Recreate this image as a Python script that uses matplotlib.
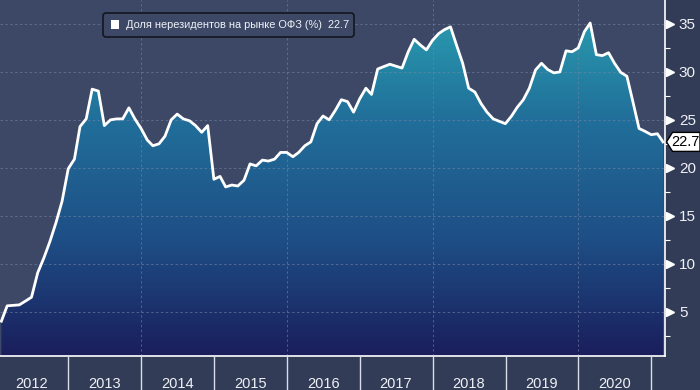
import numpy as np
import pandas as pd
import matplotlib
matplotlib.use('Agg')
import matplotlib.pyplot as plt
import matplotlib.dates as mdates
from matplotlib.colors import LinearSegmentedColormap
from matplotlib.patches import Polygon, FancyBboxPatch, Rectangle
from matplotlib.transforms import IdentityTransform

# monthly share of non-residents in OFZ market, % (month-end values)
dates = pd.date_range('2012-01-31', periods=110, freq='ME')
values = [
    4.0, 5.6, 5.65, 5.7, 6.1, 6.5, 9.05, 10.6, 12.3, 14.3, 16.5, 19.9,           # 2012
    20.9, 24.3, 25.1, 28.2, 28.0, 24.4, 25.0, 25.1, 25.1, 26.25, 25.1, 24.1,     # 2013
    22.9, 22.3, 22.5, 23.3, 25.0, 25.6, 25.1, 24.9, 24.4, 23.7, 24.4, 18.8,      # 2014
    19.1, 18.0, 18.2, 18.1, 18.7, 20.4, 20.2, 20.8, 20.7, 20.9, 21.6, 21.6,      # 2015
    21.15, 21.6, 22.3, 22.7, 24.6, 25.4, 25.0, 26.0, 27.1, 26.9, 25.8, 27.2,     # 2016
    28.3, 27.65, 30.3, 30.55, 30.8, 30.6, 30.4, 32.1, 33.4, 32.8, 32.3, 33.3,    # 2017
    34.0, 34.4, 34.7, 32.8, 30.9, 28.3, 27.9, 26.7, 25.8, 25.1, 24.85, 24.6,     # 2018
    25.4, 26.3, 27.1, 28.3, 30.2, 30.9, 30.25, 29.9, 30.0, 32.2, 32.1, 32.5,     # 2019
    34.2, 35.1, 31.8, 31.7, 32.0, 30.9, 29.95, 29.55, 26.9, 24.1, 23.8, 23.45,   # 2020
    23.55, 22.7,                                                                 # 2021
]
series_name = 'Доля нерезидентов на рынке ОФЗ (%)'
y_ticks = [5, 10, 15, 20, 25, 30, 35]
years = list(range(2012, 2022))
grid_years = [2014, 2016, 2018, 2020]

bg = '#3c4865'
band = '#333c56'
txt = '#eef1f6'
plt.rcParams['font.family'] = ['Liberation Sans', 'DejaVu Sans']

fig = plt.figure(figsize=(7, 3.9), dpi=100, facecolor=band)
ax = fig.add_axes([0, 0.088, 0.95, 0.912])
ax.set_facecolor(bg)

x = mdates.date2num(dates)
xmin = mdates.date2num(pd.Timestamp('2012-01-24'))
xmax = mdates.date2num(pd.Timestamp('2021-03-10'))
ymin, ymax = 0.4, 37.5

# gradient fill under the line
poly = ax.fill_between(x, values, ymin, facecolor='none', edgecolor='none')
cmap = LinearSegmentedColormap.from_list('fill', ['#1a1e5c', '#1e4f86', '#216f9a', '#2aa2b2'])
grad = np.linspace(0, 1, 256).reshape(-1, 1)
im = ax.imshow(grad, cmap=cmap, origin='lower', aspect='auto',
               extent=[xmin, xmax, ymin, ymax], zorder=1, interpolation='bilinear')
im.set_clip_path(poly.get_paths()[0], transform=ax.transData)

ax.plot(x, values, color='white', lw=2, zorder=4, solid_joinstyle='round')

# grid
ax.set_axisbelow(False)
for v in y_ticks:
    ax.axhline(v, color='#7584a3', lw=0.7, ls=(0, (2.5, 2.5)), alpha=0.6, zorder=2)
for yr in grid_years:
    ax.axvline(mdates.date2num(pd.Timestamp(f'{yr}-01-01')), color='#7584a3', lw=0.7,
               ls=(0, (2.5, 2.5)), alpha=0.6, zorder=2)

# y axis on right
ax.yaxis.tick_right()
ax.set_yticks(y_ticks)
ax.set_yticks(np.arange(2.5, 37.5, 5), minor=True)
ax.tick_params(axis='y', which='major', length=0, pad=10, labelsize=11, labelcolor=txt)
ax.tick_params(axis='y', which='minor', length=3.5, width=0.8, color='white', direction='out')

# x axis: year separators and centered labels
ax.set_xticks([mdates.date2num(pd.Timestamp(f'{y}-01-01')) for y in years])
ax.set_xticks([mdates.date2num(pd.Timestamp(f'{y}-07-01')) for y in years], minor=True)
ax.set_xticklabels([])
ax.set_xticklabels([str(y) for y in years], minor=True)
ax.tick_params(axis='x', which='major', length=25, width=1, color='#d8dde8', direction='out')
ax.tick_params(axis='x', which='minor', length=0, pad=15, labelsize=10.5, labelcolor=txt)

ax.set_xlim(xmin, xmax)
ax.set_ylim(ymin, ymax)

ax.plot([1.007] * len(y_ticks), y_ticks, ls='none', marker='>', ms=5.5, color='white',
        transform=ax.get_yaxis_transform(), clip_on=False, zorder=5)
ax.set_xlim(xmin, xmax)
ax.set_ylim(ymin, ymax)

for s in ['top', 'left']:
    ax.spines[s].set_visible(False)
ax.spines['right'].set_color('white')
ax.spines['bottom'].set_color('white')
ax.spines['right'].set_linewidth(1.2)
ax.spines['bottom'].set_linewidth(1.2)

# last value tag
ident = IdentityTransform()
py = ax.transData.transform((xmax, values[-1]))[1]
px0 = ax.transAxes.transform((1, 0))[0] + 1.5
tag = Polygon([[px0, py], [px0 + 6, py + 9.5], [700, py + 9.5], [700, py - 9.5], [px0 + 6, py - 9.5]],
              closed=True, transform=ident, fc='white', ec='black', lw=1, zorder=6)
fig.add_artist(tag)
fig.text(px0 + 5, py, f'{values[-1]:.1f}', transform=ident, ha='left', va='center',
         fontsize=10.5, color='black', zorder=7)

# legend box
box = FancyBboxPatch((103, 353), 251, 24, boxstyle='round,pad=0,rounding_size=3',
                     transform=ident, fc=bg, ec='#14161f', lw=1.2, zorder=6)
fig.add_artist(box)
fig.add_artist(Rectangle((110.5, 361), 8.5, 9, transform=ident, fc='white', ec='none', zorder=7))
fig.text(125.5, 365.5, f'{series_name}  {values[-1]:.1f}', transform=ident, ha='left',
         va='center', fontsize=7.9, color=txt, zorder=7)

fig.savefig('out.png', dpi=100, facecolor=band)
